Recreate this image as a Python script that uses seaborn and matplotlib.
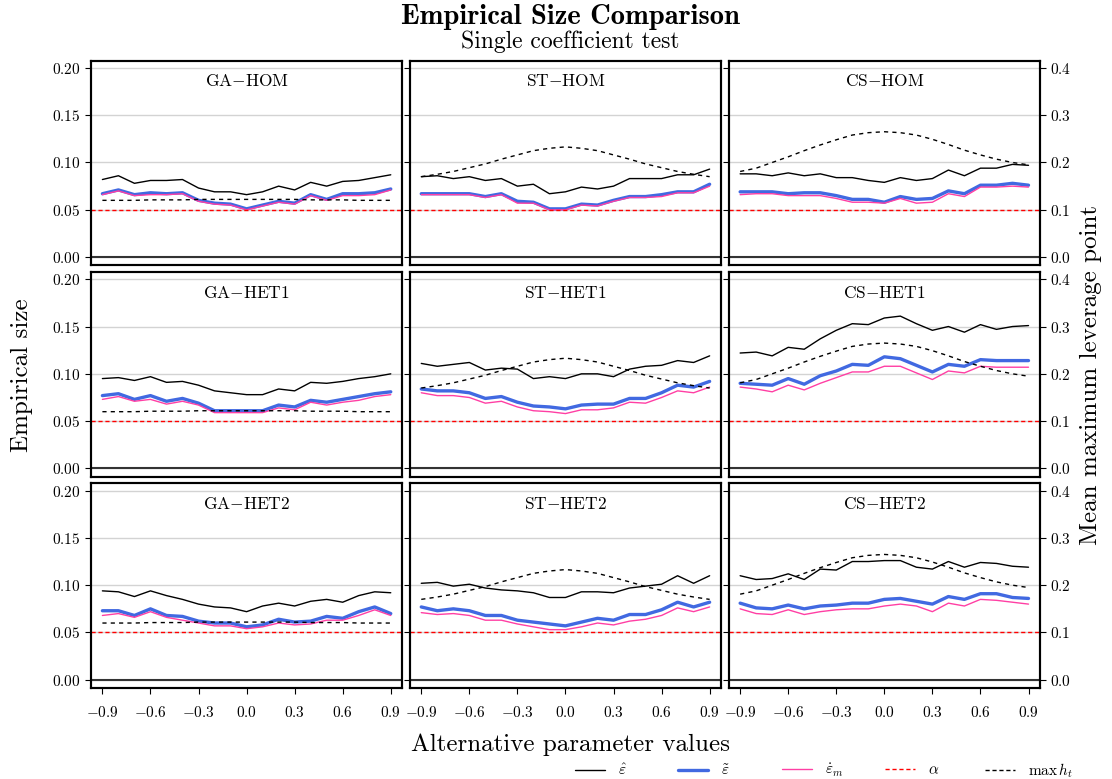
import matplotlib
matplotlib.use('Agg')
import matplotlib.pyplot as plt
from matplotlib.lines import Line2D
import seaborn as sns

# alternative parameter values (x)
alt_values = [-0.9, -0.8, -0.7, -0.6, -0.5, -0.4, -0.3, -0.2, -0.1, 0.0,
              0.1, 0.2, 0.3, 0.4, 0.5, 0.6, 0.7, 0.8, 0.9]
designs = ['GA', 'ST', 'CS']
schemes = ['HOM', 'HET1', 'HET2']
nominal_alpha = 0.05

# GA
ga_hom_hat = [0.082, 0.086, 0.078, 0.081, 0.081, 0.082, 0.073, 0.069, 0.069, 0.066, 0.069, 0.075, 0.071, 0.079, 0.075, 0.080, 0.081, 0.084, 0.087]
ga_hom_tilde = [0.067, 0.071, 0.066, 0.068, 0.067, 0.068, 0.060, 0.057, 0.056, 0.051, 0.055, 0.059, 0.057, 0.066, 0.061, 0.067, 0.067, 0.068, 0.072]
ga_hom_dot = [0.066, 0.070, 0.065, 0.066, 0.066, 0.067, 0.059, 0.056, 0.055, 0.050, 0.054, 0.058, 0.056, 0.065, 0.060, 0.065, 0.065, 0.066, 0.071]
ga_het1_hat = [0.095, 0.096, 0.093, 0.097, 0.091, 0.092, 0.088, 0.082, 0.080, 0.078, 0.078, 0.084, 0.082, 0.091, 0.090, 0.092, 0.095, 0.097, 0.100]
ga_het1_tilde = [0.077, 0.079, 0.073, 0.077, 0.071, 0.074, 0.069, 0.061, 0.061, 0.061, 0.061, 0.067, 0.065, 0.072, 0.070, 0.073, 0.076, 0.079, 0.081]
ga_het1_dot = [0.073, 0.076, 0.071, 0.073, 0.068, 0.071, 0.067, 0.059, 0.059, 0.059, 0.059, 0.064, 0.062, 0.070, 0.067, 0.070, 0.072, 0.076, 0.078]
ga_het2_hat = [0.094, 0.093, 0.088, 0.094, 0.089, 0.085, 0.080, 0.077, 0.076, 0.072, 0.078, 0.081, 0.078, 0.083, 0.085, 0.082, 0.089, 0.093, 0.092]
ga_het2_tilde = [0.073, 0.073, 0.068, 0.075, 0.068, 0.067, 0.062, 0.060, 0.060, 0.056, 0.058, 0.064, 0.061, 0.062, 0.067, 0.065, 0.072, 0.077, 0.070]
ga_het2_dot = [0.068, 0.070, 0.066, 0.072, 0.066, 0.063, 0.060, 0.057, 0.057, 0.054, 0.056, 0.060, 0.058, 0.059, 0.063, 0.063, 0.068, 0.074, 0.068]

# ST
st_hom_hat = [0.085, 0.086, 0.083, 0.085, 0.081, 0.083, 0.075, 0.077, 0.067, 0.069, 0.074, 0.072, 0.075, 0.083, 0.083, 0.083, 0.087, 0.087, 0.093]
st_hom_tilde = [0.067, 0.067, 0.067, 0.067, 0.064, 0.067, 0.059, 0.058, 0.051, 0.051, 0.056, 0.055, 0.060, 0.064, 0.064, 0.066, 0.069, 0.069, 0.077]
st_hom_dot = [0.066, 0.066, 0.066, 0.066, 0.063, 0.066, 0.057, 0.057, 0.050, 0.050, 0.055, 0.054, 0.059, 0.063, 0.063, 0.064, 0.068, 0.068, 0.075]
st_het1_hat = [0.111, 0.108, 0.110, 0.112, 0.104, 0.106, 0.105, 0.095, 0.097, 0.095, 0.100, 0.100, 0.097, 0.105, 0.108, 0.109, 0.114, 0.112, 0.119]
st_het1_tilde = [0.084, 0.082, 0.082, 0.080, 0.074, 0.076, 0.070, 0.066, 0.065, 0.063, 0.067, 0.068, 0.068, 0.074, 0.074, 0.080, 0.088, 0.086, 0.092]
st_het1_dot = [0.080, 0.077, 0.077, 0.075, 0.069, 0.071, 0.065, 0.061, 0.060, 0.058, 0.062, 0.062, 0.064, 0.070, 0.069, 0.075, 0.082, 0.080, 0.086]
st_het2_hat = [0.102, 0.103, 0.099, 0.101, 0.097, 0.095, 0.094, 0.092, 0.087, 0.087, 0.093, 0.093, 0.092, 0.097, 0.099, 0.101, 0.110, 0.102, 0.110]
st_het2_tilde = [0.077, 0.073, 0.075, 0.073, 0.068, 0.068, 0.063, 0.061, 0.059, 0.057, 0.061, 0.065, 0.063, 0.069, 0.069, 0.074, 0.082, 0.077, 0.082]
st_het2_dot = [0.071, 0.069, 0.070, 0.068, 0.063, 0.063, 0.059, 0.056, 0.053, 0.053, 0.056, 0.060, 0.058, 0.062, 0.064, 0.068, 0.076, 0.072, 0.077]

# CS
cs_hom_hat = [0.088, 0.088, 0.086, 0.089, 0.086, 0.088, 0.084, 0.084, 0.081, 0.079, 0.084, 0.081, 0.083, 0.092, 0.086, 0.094, 0.094, 0.098, 0.097]
cs_hom_tilde = [0.069, 0.069, 0.069, 0.067, 0.068, 0.068, 0.065, 0.061, 0.061, 0.058, 0.064, 0.061, 0.062, 0.070, 0.067, 0.076, 0.076, 0.078, 0.076]
cs_hom_dot = [0.066, 0.067, 0.067, 0.065, 0.065, 0.065, 0.062, 0.058, 0.058, 0.057, 0.062, 0.057, 0.058, 0.067, 0.064, 0.074, 0.074, 0.075, 0.074]
cs_het1_hat = [0.122, 0.123, 0.119, 0.128, 0.126, 0.137, 0.146, 0.153, 0.152, 0.159, 0.161, 0.153, 0.146, 0.150, 0.144, 0.152, 0.147, 0.150, 0.151]
cs_het1_tilde = [0.090, 0.089, 0.088, 0.095, 0.089, 0.098, 0.103, 0.110, 0.109, 0.118, 0.116, 0.109, 0.102, 0.110, 0.108, 0.115, 0.114, 0.114, 0.114]
cs_het1_dot = [0.086, 0.084, 0.081, 0.088, 0.083, 0.090, 0.096, 0.102, 0.102, 0.108, 0.108, 0.101, 0.094, 0.103, 0.101, 0.108, 0.107, 0.107, 0.107]
cs_het2_hat = [0.110, 0.106, 0.107, 0.112, 0.106, 0.117, 0.116, 0.125, 0.125, 0.126, 0.126, 0.119, 0.117, 0.125, 0.119, 0.124, 0.123, 0.120, 0.119]
cs_het2_tilde = [0.081, 0.076, 0.075, 0.079, 0.075, 0.078, 0.079, 0.081, 0.081, 0.085, 0.086, 0.083, 0.080, 0.088, 0.085, 0.091, 0.091, 0.087, 0.086]
cs_het2_dot = [0.075, 0.070, 0.069, 0.074, 0.069, 0.072, 0.074, 0.075, 0.075, 0.078, 0.080, 0.078, 0.072, 0.081, 0.078, 0.085, 0.084, 0.082, 0.080]

# mean maximum leverage point (right axis), one per design
ga_leverage = [0.120, 0.120, 0.120, 0.121, 0.121, 0.121, 0.122, 0.122, 0.122, 0.122, 0.122, 0.122, 0.122, 0.121, 0.121, 0.121, 0.120, 0.120, 0.120]
st_leverage = [0.170, 0.175, 0.181, 0.189, 0.197, 0.207, 0.216, 0.225, 0.230, 0.233, 0.230, 0.225, 0.216, 0.207, 0.197, 0.189, 0.181, 0.175, 0.170]
cs_leverage = [0.181, 0.188, 0.200, 0.212, 0.225, 0.237, 0.248, 0.258, 0.263, 0.265, 0.263, 0.258, 0.249, 0.238, 0.226, 0.216, 0.207, 0.200, 0.195]

series = {
    ('GA', 'HOM'): (ga_hom_hat, ga_hom_tilde, ga_hom_dot),
    ('GA', 'HET1'): (ga_het1_hat, ga_het1_tilde, ga_het1_dot),
    ('GA', 'HET2'): (ga_het2_hat, ga_het2_tilde, ga_het2_dot),
    ('ST', 'HOM'): (st_hom_hat, st_hom_tilde, st_hom_dot),
    ('ST', 'HET1'): (st_het1_hat, st_het1_tilde, st_het1_dot),
    ('ST', 'HET2'): (st_het2_hat, st_het2_tilde, st_het2_dot),
    ('CS', 'HOM'): (cs_hom_hat, cs_hom_tilde, cs_hom_dot),
    ('CS', 'HET1'): (cs_het1_hat, cs_het1_tilde, cs_het1_dot),
    ('CS', 'HET2'): (cs_het2_hat, cs_het2_tilde, cs_het2_dot),
}
leverage = {'GA': ga_leverage, 'ST': st_leverage, 'CS': cs_leverage}

blue = '#4169e1'
pink = '#ff3fa4'

sns.set_style('white')
plt.rcParams.update({
    'font.family': 'serif',
    'font.serif': ['cmr10'],
    'mathtext.fontset': 'cm',
    'axes.formatter.use_mathtext': True,
    'axes.unicode_minus': True,
    'axes.edgecolor': 'black',
    'axes.linewidth': 1.5,
    'text.color': 'black',
    'axes.labelcolor': 'black',
    'xtick.color': 'black',
    'ytick.color': 'black',
})

fig, axes = plt.subplots(3, 3, figsize=(11.12, 7.79), dpi=100, sharex=True, sharey=True)
fig.subplots_adjust(left=0.082, right=0.935, top=0.922, bottom=0.117, wspace=0.026, hspace=0.034)

ylim_left = (-0.0085, 0.2075)

for i, scheme in enumerate(schemes):
    for j, design in enumerate(designs):
        ax = axes[i, j]
        hat, tilde, dot = series[(design, scheme)]
        ax.set_axisbelow(True)
        ax.yaxis.grid(True, color='#d3d3d3', lw=1.0)
        ax.axhline(0, color='#333333', lw=1.5)
        sns.lineplot(x=alt_values, y=hat, ax=ax, color='black', lw=1.0)
        sns.lineplot(x=alt_values, y=tilde, ax=ax, color=blue, lw=2.4)
        sns.lineplot(x=alt_values, y=dot, ax=ax, color=pink, lw=1.0)
        ax.axhline(nominal_alpha, color='red', ls=(0, (3, 2)), lw=1.0)
        ax.set_ylim(*ylim_left)
        ax.set_xlim(-0.97, 0.97)
        ax.set_xticks([-0.9, -0.6, -0.3, 0.0, 0.3, 0.6, 0.9])
        ax.set_yticks([0.0, 0.05, 0.10, 0.15, 0.20])
        ax.tick_params(axis='both', labelsize=11, length=4, width=0.8, direction='out',
                       left=(j == 0), bottom=(i == 2))
        ax.tick_params(axis='x', pad=8)
        ax.text(0.5, 0.90, design + r'$-$' + scheme, transform=ax.transAxes,
                ha='center', va='center', fontsize=12.5)

        ax2 = ax.twinx()
        sns.lineplot(x=alt_values, y=leverage[design], ax=ax2, color='black', lw=1.0,
                     linestyle=(0, (3, 3)))
        ax2.set_ylim(2 * ylim_left[0], 2 * ylim_left[1])
        ax2.set_yticks([0.0, 0.1, 0.2, 0.3, 0.4])
        ax2.grid(False)
        if j == 2:
            ax2.tick_params(axis='y', right=True, labelright=True, labelsize=11,
                            length=4, width=0.8, direction='out')
        else:
            ax2.tick_params(axis='y', right=False, labelright=False)
        for spine in ax2.spines.values():
            spine.set_linewidth(1.5)

mid = 0.513
fig.text(mid, 0.969, 'Empirical Size Comparison', family='cmb10', fontsize=20.5,
         ha='center', va='baseline')
fig.text(mid, 0.9385, 'Single coefficient test', fontsize=17, ha='center', va='baseline')
fig.text(mid, 0.044, 'Alternative parameter values', fontsize=18, ha='center', va='center')
fig.text(0.02, 0.519, 'Empirical size', fontsize=18, rotation=90, ha='center', va='center')
fig.text(0.981, 0.519, 'Mean maximum leverage point', fontsize=18, rotation=90,
         ha='center', va='center')

handles = [
    Line2D([], [], color='black', lw=1.0),
    Line2D([], [], color=blue, lw=2.4),
    Line2D([], [], color=pink, lw=1.0),
    Line2D([], [], color='red', lw=1.0, ls=(0, (3, 2))),
    Line2D([], [], color='black', lw=1.0, ls=(0, (3, 2))),
]
labels = [r'$\hat{\varepsilon}$', r'$\tilde{\varepsilon}$', r'$\dot{\varepsilon}_m$',
          r'$\alpha$', r'$\max\, h_t$']
legend_x = [0.517, 0.610, 0.703, 0.796, 0.886]
for h, lab, lx in zip(handles, labels, legend_x):
    fig.legend([h], [lab], loc='center left', bbox_to_anchor=(lx, 0.0105), frameon=False,
               fontsize=11, handlelength=1.96, handletextpad=0.85, borderpad=0,
               borderaxespad=0)

fig.savefig('out.png', dpi=100)
